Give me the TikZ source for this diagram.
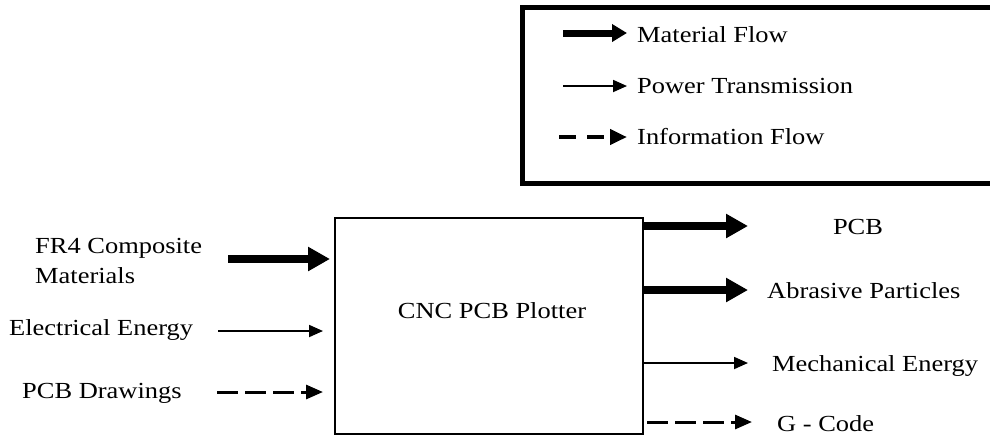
\documentclass[tikz,border=0pt]{standalone}
\usepackage{fontspec}
\setmainfont{Liberation Serif}[FakeStretch=1.15]
\usetikzlibrary{arrows.meta}
\begin{document}
\begin{tikzpicture}[x=1pt,y=1pt,
  lbl/.style={anchor=base west,inner sep=0pt,font=\fontsize{23}{30}\selectfont},
  matflow/.style={line width=7.5pt,-{Triangle[length=22pt,width=23pt]}},
  matflowleg/.style={line width=7pt,-{Triangle[length=15pt,width=17pt]}},
  powflow/.style={line width=1.8pt,-{Triangle[length=14pt,width=12pt]}},
  infoflow/.style={line width=3pt,dash pattern=on 21pt off 7pt,-{Triangle[length=17pt,width=14pt]}},
  plotter/.style={draw,line width=2pt,minimum width=308pt,minimum height=216pt,inner sep=0pt}]
\useasboundingbox (0,0) rectangle (990,-437);
% legend box
\draw[line width=5pt] (995,-7) -- (522,-7) -- (522,-183) -- (995,-183);
\coordinate (l1a) at (563,-33); \coordinate (l1b) at (627,-33);
\coordinate (l2a) at (563,-86); \coordinate (l2b) at (627,-86);
\coordinate (l3a) at (559,-137); \coordinate (l3b) at (627,-137);
\draw[matflowleg] (l1a) -- (l1b);
\draw[powflow] (l2a) -- (l2b);
\draw[infoflow,line width=4.5pt,dash pattern=on 17pt off 11pt,-{Triangle[length=17pt,width=15pt]}] (l3a) -- (l3b);
\node[lbl] (t1) at (637,-42) {Material Flow};
\node[lbl] (t2) at (637,-93) {Power Transmission};
\node[lbl] (t3) at (637,-144) {Information Flow};
% main box
\node[plotter] (box) at (489,-326) {};
\node[lbl,anchor=base] (cnc) at (492,-318) {CNC PCB Plotter};
% inputs
\node[lbl] (fr4) at (35,-253) {FR4 Composite};
\node[lbl] (mat) at (35,-283) {Materials};
\node[lbl] (elec) at (9,-335) {Electrical Energy};
\node[lbl] (draw) at (22,-398) {PCB Drawings};
\coordinate (i1) at (228,-259);
\coordinate (i2) at (218,-331);
\coordinate (i3) at (217,-392);
\draw[matflow] (i1) -- ([xshift=-4pt]box.west |- i1);
\draw[powflow] (i2) -- ([xshift=-11pt]box.west |- i2);
\draw[infoflow] (i3) -- ([xshift=-11pt]box.west |- i3);
% outputs
\coordinate (o1) at (748,-226);
\coordinate (o2) at (748,-290);
\coordinate (o3) at (748,-363);
\coordinate (o4) at (752,-422);
\draw[matflow] (box.east |- o1) -- (o1);
\draw[matflow] (box.east |- o2) -- (o2);
\draw[powflow] (box.east |- o3) -- (o3);
\draw[infoflow] ([xshift=3pt]box.east |- o4) -- (o4);
\node[lbl,anchor=base] (pcb) at (858,-234) {PCB};
\node[lbl] (abr) at (767,-298) {Abrasive Particles};
\node[lbl] (mech) at (772,-371) {Mechanical Energy};
\node[lbl] (gc) at (777,-431) {G - Code};
\end{tikzpicture}
\end{document}
